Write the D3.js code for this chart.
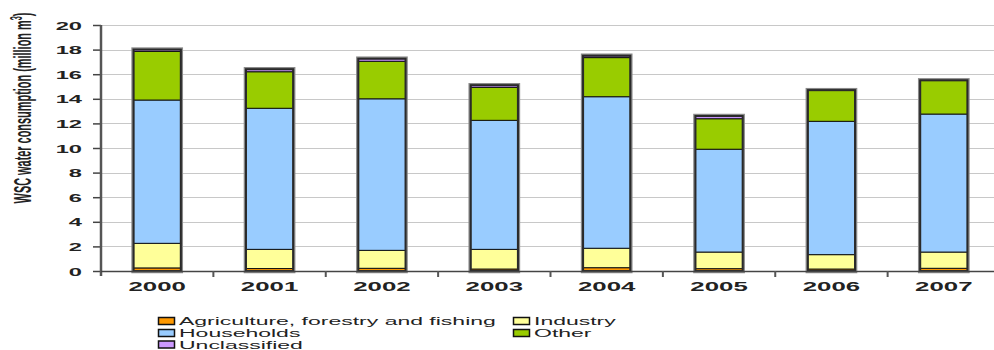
<!DOCTYPE html>
<html>
<head>
<meta charset="utf-8">
<script src="https://cdn.jsdelivr.net/npm/d3@7"></script>
<style>
  html, body { margin: 0; padding: 0; background: #fff; }
  svg { display: block; }
  text { font-family: Arial, "Liberation Sans", sans-serif; fill: #222; }
</style>
</head>
<body>
<svg id="chart" width="994" height="350"></svg>
<script>
// WSC water consumption by sector, million m³
const years = ["2000", "2001", "2002", "2003", "2004", "2005", "2006", "2007"];
const agriculture  = [0.25, 0.20, 0.22, 0.16, 0.27, 0.19, 0.16, 0.22];
const industry     = [2.00, 1.56, 1.46, 1.60, 1.58, 1.35, 1.17, 1.32];
const households   = [11.65, 11.47, 12.32, 10.49, 12.32, 8.36, 10.84, 11.22];
const other        = [3.95, 2.97, 3.05, 2.68, 3.18, 2.48, 2.53, 2.74];
const unclassified = [0.15, 0.20, 0.21, 0.17, 0.15, 0.22, 0.00, 0.00];
const yTicks = [0, 2, 4, 6, 8, 10, 12, 14, 16, 18, 20];

const seriesNames = ["Agriculture, forestry and fishing", "Industry", "Households", "Other", "Unclassified"];
const seriesKeys = ["agriculture", "industry", "households", "other", "unclassified"];
const seriesColors = ["#FF9900", "#FFFF99", "#99CCFF", "#99CC00", "#CC99FF"];

const rows = years.map((y, i) => ({
  year: y,
  agriculture: agriculture[i],
  industry: industry[i],
  households: households[i],
  other: other[i],
  unclassified: unclassified[i]
}));

const svg = d3.select("#chart");
const sx = 2.15; // wide text rendering used throughout the chart

const plot = { left: 101, right: 1000, top: 25, bottom: 271 };

const x = d3.scaleBand().domain(years).range([plot.left, plot.right]).paddingInner(0.58).paddingOuter(0.29);
const y = d3.scaleLinear().domain([0, 20]).range([plot.bottom, plot.top]);

// gridlines
svg.append("g")
  .selectAll("line")
  .data(yTicks.filter(d => d > 0))
  .join("line")
  .attr("x1", plot.left).attr("x2", 994)
  .attr("y1", d => Math.round(y(d)) + 0.5).attr("y2", d => Math.round(y(d)) + 0.5)
  .attr("stroke", "#c8c8c8").attr("stroke-width", 1.2);

// stacked bars
const stacked = d3.stack().keys(seriesKeys)(rows);
const barsG = svg.append("g");
const total = d => d3.sum(seriesKeys, k => d[k]);

// bar outline halo
barsG.selectAll("rect.halo")
  .data(rows)
  .join("rect")
  .attr("class", "halo")
  .attr("x", d => x(d.year))
  .attr("width", x.bandwidth())
  .attr("y", d => y(total(d)))
  .attr("height", d => y(0) - y(total(d)))
  .attr("fill", "none")
  .attr("stroke", "#8a8a8a")
  .attr("stroke-width", 4.5);

stacked.forEach((s, si) => {
  barsG.append("g")
    .selectAll("rect")
    .data(s)
    .join("rect")
    .attr("x", d => x(d.data.year))
    .attr("width", x.bandwidth())
    .attr("y", d => y(d[1]))
    .attr("height", d => Math.max(0, y(d[0]) - y(d[1])))
    .attr("fill", seriesColors[si])
    .attr("stroke", "#111")
    .attr("stroke-width", 1);
});

barsG.selectAll("rect.frame")
  .data(rows)
  .join("rect")
  .attr("class", "frame")
  .attr("x", d => x(d.year))
  .attr("width", x.bandwidth())
  .attr("y", d => y(total(d)))
  .attr("height", d => y(0) - y(total(d)))
  .attr("fill", "none")
  .attr("stroke", "#2a2a2a")
  .attr("stroke-width", 2);

// y axis
const yAxis = d3.axisLeft(y).tickValues(yTicks).tickSize(8).tickFormat("");
const yG = svg.append("g").attr("transform", `translate(${plot.left},0)`).call(yAxis);
yG.select(".domain").remove();
yG.selectAll(".tick line").attr("stroke", "#444").attr("stroke-width", 1.5);
svg.append("line")
  .attr("x1", plot.left).attr("x2", plot.left)
  .attr("y1", plot.top).attr("y2", plot.bottom + 5)
  .attr("stroke", "#555").attr("stroke-width", 2.5);

yG.selectAll(".tick").each(function(d) {
  d3.select(this).append("g")
    .attr("transform", `translate(-19,4) scale(${sx},1)`)
    .append("text")
    .attr("text-anchor", "end")
    .attr("font-size", 11)
    .attr("font-weight", "bold")
    .text(d);
});

// x axis
svg.append("line")
  .attr("x1", plot.left).attr("x2", 994)
  .attr("y1", plot.bottom + 0.5).attr("y2", plot.bottom + 0.5)
  .attr("stroke", "#444").attr("stroke-width", 1.5);

const boundaries = years.slice(1).map(yr => x(yr) - x.step() * x.paddingInner() / 2);
svg.append("g").selectAll("line")
  .data(boundaries)
  .join("line")
  .attr("x1", d => d).attr("x2", d => d)
  .attr("y1", plot.bottom).attr("y2", plot.bottom + 6)
  .attr("stroke", "#555").attr("stroke-width", 2);

svg.append("g").selectAll("g")
  .data(years)
  .join("g")
  .attr("transform", d => `translate(${x(d) + x.bandwidth() / 2},${plot.bottom + 20}) scale(${sx},1)`)
  .append("text")
  .attr("text-anchor", "middle")
  .attr("font-size", 12)
  .attr("font-weight", "bold")
  .text(d => d);

// y axis title
const titleG = svg.append("g");
const title = titleG.append("text")
  .attr("text-anchor", "middle")
  .attr("font-size", 12)
  .attr("font-weight", "bold");
title.append("tspan").text("WSC water consumption (million m");
title.append("tspan").attr("baseline-shift", "super").attr("font-size", 8).text("3");
title.append("tspan").text(")");
const titleLen = title.node().getComputedTextLength();
titleG.attr("transform", `translate(31,108) scale(2.05,${191 / titleLen}) rotate(-90)`);

// legend
const legendItems = [
  { i: 0, col: 0, row: 0 },
  { i: 1, col: 1, row: 0 },
  { i: 2, col: 0, row: 1 },
  { i: 3, col: 1, row: 1 },
  { i: 4, col: 0, row: 2 }
];
const legendCols = [158, 513];
const legendRows = [321, 333, 344.5];
const lg = svg.append("g").selectAll("g")
  .data(legendItems)
  .join("g")
  .attr("transform", d => `translate(${legendCols[d.col]},${legendRows[d.row]})`);
lg.append("rect")
  .attr("x", 0.5).attr("y", -3.5)
  .attr("width", 16).attr("height", 7)
  .attr("fill", d => seriesColors[d.i])
  .attr("stroke", "#111").attr("stroke-width", 1.5);
lg.append("g")
  .attr("transform", "translate(21,4) scale(2.13,1)")
  .append("text")
  .attr("font-size", 10.8)
  .text(d => seriesNames[d.i]);
</script>
</body>
</html>
